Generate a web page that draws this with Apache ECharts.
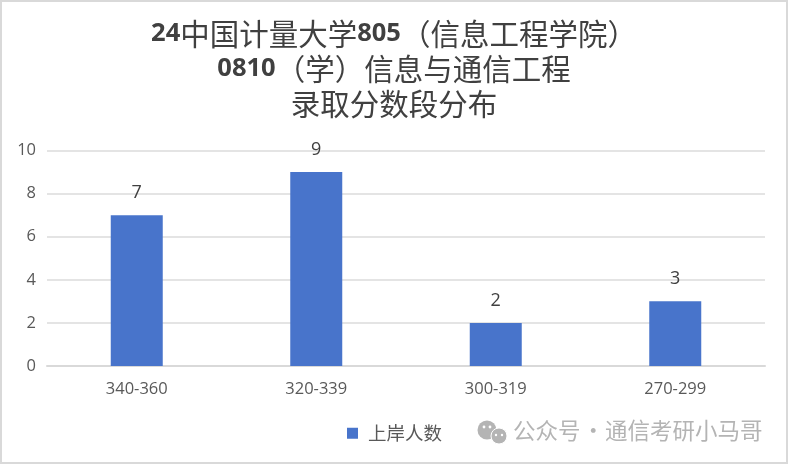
<!DOCTYPE html>
<html>
<head>
<meta charset="utf-8">
<style>
  html, body { margin: 0; padding: 0; background: #fff; }
  #chart { width: 789px; height: 465px; }
</style>
</head>
<body>
<div id="chart"></div>
<script src="https://cdn.jsdelivr.net/npm/echarts@6/dist/echarts.min.js"></script>
<script>
const categories = ['340-360', '320-339', '300-319', '270-299']
const values = [7, 9, 2, 3]
const seriesName = '上岸人数'

const cjk = '"Noto Sans CJK SC", sans-serif'
const latin = '"Open Sans", "Noto Sans CJK SC", sans-serif'
const markGrey = '#b4b4b4'

const chart = echarts.init(document.getElementById('chart'), null, { renderer: 'canvas' })

chart.setOption({
  backgroundColor: '#fff',
  animation: false,
  title: {
    left: 389,
    top: 11,
    textAlign: 'center',
    text: '{b|24}{t|中国计量大学}{b|805}{t|（信息工程学院）}\n{b|0810}{t|（学）信息与通信工程}\n{t|录取分数段分布}',
    textStyle: {
      rich: {
        b: { fontFamily: latin, fontWeight: 'bold', fontSize: 25.5, color: '#404040', lineHeight: 35 },
        t: { fontFamily: cjk, fontWeight: 'normal', fontSize: 29.5, color: '#404040', lineHeight: 35 }
      }
    }
  },
  legend: {
    left: 342,
    top: 419,
    itemWidth: 11,
    itemHeight: 11,
    icon: 'rect',
    textStyle: { fontFamily: cjk, fontSize: 18.5, color: '#595959', padding: [0, 0, 0, 5] }
  },
  grid: { left: 47, right: 24, top: 150.5, bottom: 99 },
  xAxis: {
    type: 'category',
    data: categories,
    axisTick: { show: false },
    axisLine: { lineStyle: { color: '#d9d9d9', width: 2 } },
    axisLabel: { fontFamily: latin, fontSize: 16.5, color: '#595959', margin: 15 }
  },
  yAxis: {
    type: 'value',
    min: 0,
    max: 10,
    interval: 2,
    axisLine: { show: false },
    axisTick: { show: false },
    splitLine: { lineStyle: { color: '#e4e4e4', width: 2 } },
    axisLabel: { fontFamily: latin, fontSize: 16.5, color: '#595959', margin: 11 }
  },
  series: [
    {
      name: seriesName,
      type: 'bar',
      barWidth: 52,
      data: values,
      itemStyle: { color: '#4874cb' },
      label: {
        show: true,
        position: 'top',
        distance: 13,
        fontFamily: latin,
        fontSize: 18,
        color: '#404040'
      }
    }
  ],
  graphic: [
    // 外框
    { type: 'rect', silent: true, shape: { x: 1, y: 1, width: 786, height: 462 },
      style: { fill: 'none', stroke: '#d9d9d9', lineWidth: 2 } },
    // 微信图标
    { type: 'circle', silent: true, shape: { cx: 487, cy: 430, r: 9.5 }, style: { fill: markGrey } },
    { type: 'circle', silent: true, shape: { cx: 499, cy: 436, r: 8 }, style: { fill: markGrey, stroke: '#fff', lineWidth: 1 } },
    { type: 'circle', silent: true, shape: { cx: 484, cy: 427, r: 1.4 }, style: { fill: '#fff' } },
    { type: 'circle', silent: true, shape: { cx: 490, cy: 427, r: 1.4 }, style: { fill: '#fff' } },
    { type: 'circle', silent: true, shape: { cx: 496, cy: 435, r: 1.2 }, style: { fill: '#fff' } },
    { type: 'circle', silent: true, shape: { cx: 502, cy: 435, r: 1.2 }, style: { fill: '#fff' } },
    // 水印文字
    { type: 'text', silent: true, left: 513, top: 419,
      style: { text: '公众号', fontFamily: cjk, fontSize: 22.5, fill: markGrey } },
    { type: 'text', silent: true, left: 582, top: 419,
      style: { text: '·', fontFamily: cjk, fontSize: 22.5, fill: markGrey } },
    { type: 'text', silent: true, left: 605, top: 419,
      style: { text: '通信考研小马哥', fontFamily: cjk, fontSize: 22.5, fill: markGrey } }
  ]
})
</script>
</body>
</html>
